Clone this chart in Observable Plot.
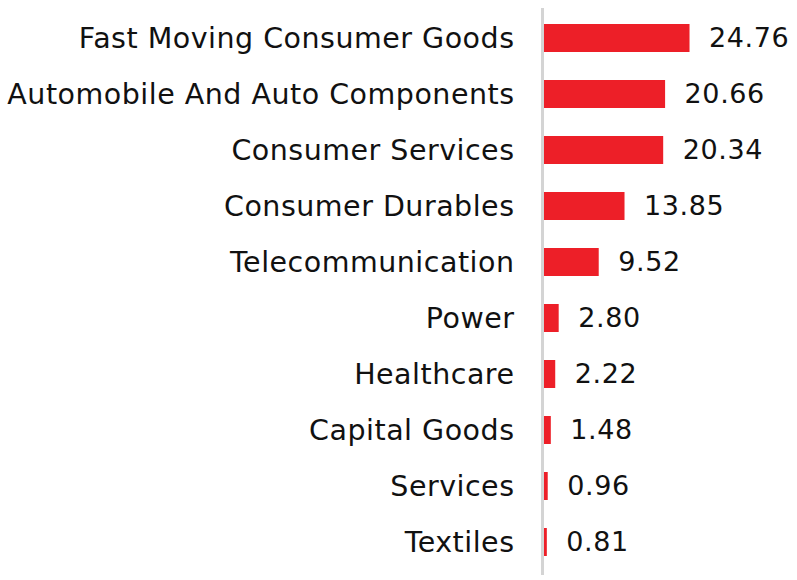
<!DOCTYPE html>
<html>
<head>
<meta charset="utf-8">
<script src="https://cdn.jsdelivr.net/npm/d3@7"></script>
<script src="https://cdn.jsdelivr.net/npm/@observablehq/plot@0.6"></script>
<style>
  html, body { margin: 0; padding: 0; background: #fff; }
  #chart svg { display: block; }
  .ylab text { letter-spacing: 0.5px; }
  .vlab text { letter-spacing: 0.6px; }
</style>
</head>
<body>
<div id="chart"></div>
<script>
const sectors = [
  "Fast Moving Consumer Goods",
  "Automobile And Auto Components",
  "Consumer Services",
  "Consumer Durables",
  "Telecommunication",
  "Power",
  "Healthcare",
  "Capital Goods",
  "Services",
  "Textiles"
];
const weights = [24.76, 20.66, 20.34, 13.85, 9.52, 2.80, 2.22, 1.48, 0.96, 0.81];

const data = sectors.map((s, i) => ({sector: s, value: weights[i]}));

const chart = Plot.plot({
  width: 797,
  height: 580,
  marginLeft: 542,
  marginRight: 0,
  marginTop: 9,
  marginBottom: 9,
  style: {fontFamily: "DejaVu Sans", background: "#fff"},
  x: {domain: [0, 42.8], axis: null},
  y: {domain: sectors, paddingInner: 0.5, paddingOuter: 0.25, label: null},
  marks: [
    Plot.axisY({tickSize: 0, tickPadding: 28, fontSize: 28.5, fill: "#111", label: null, className: "ylab"}),
    Plot.barX(data, {x: "value", y: "sector", fill: "#ed1f28"}),
    Plot.ruleX([0], {stroke: "#d4d4d4", strokeWidth: 3, insetBottom: -4, insetTop: -1}),
    Plot.text(data, {x: "value", y: "sector", text: d => d.value.toFixed(2), textAnchor: "start", dx: 19, fontSize: 27, fill: "#111", className: "vlab"})
  ]
});
document.getElementById("chart").appendChild(chart);
</script>
</body>
</html>
